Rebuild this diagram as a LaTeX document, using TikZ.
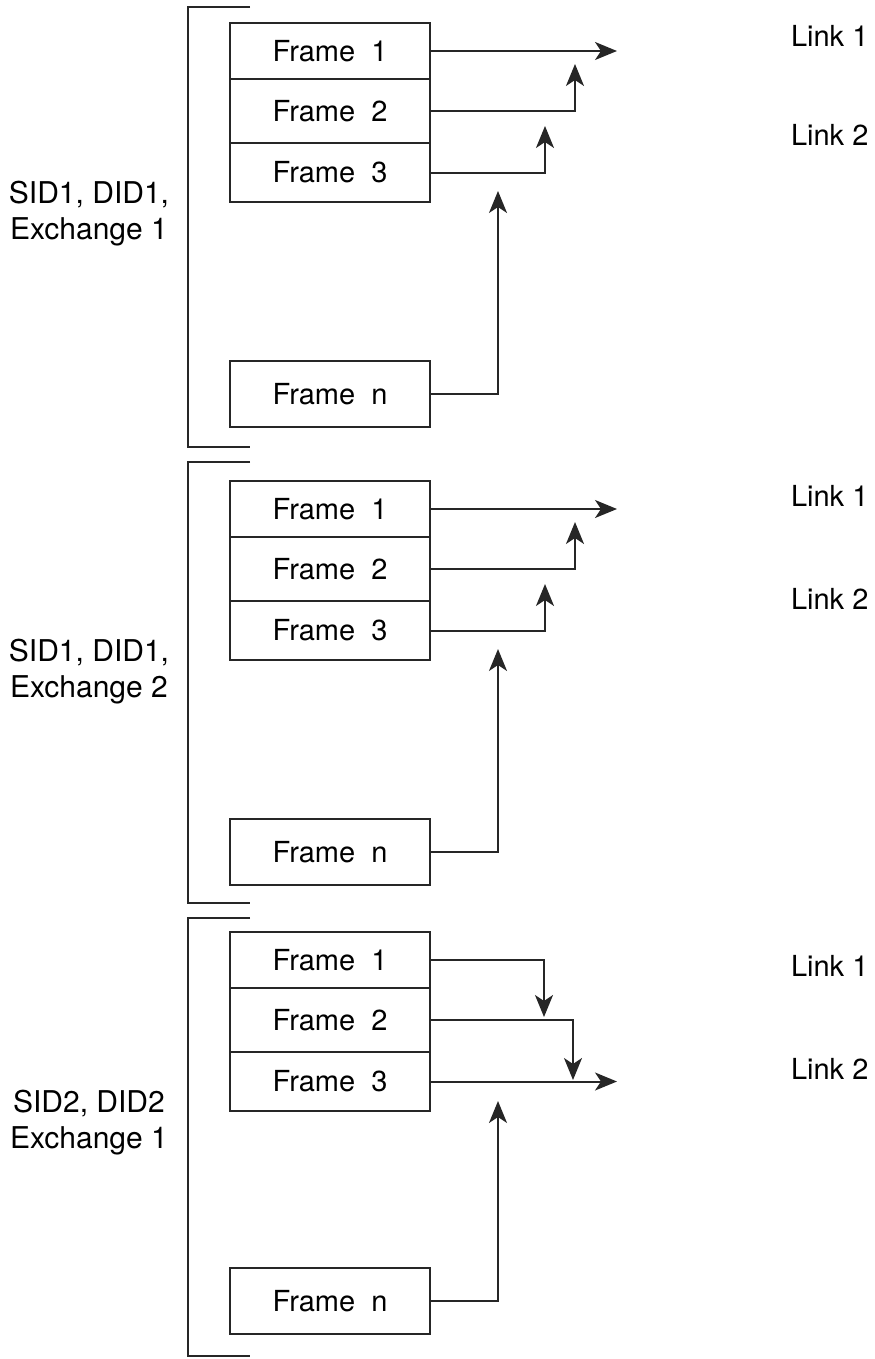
\documentclass[tikz,border=0pt]{standalone}
\usepackage{fontspec}
\setmainfont{TeX Gyre Heros}
\usetikzlibrary{arrows.meta}

\tikzset{
  frm/.style={draw, rectangle, minimum width=100pt, inner sep=0pt},
  lbl/.style={align=center, inner sep=0pt, font=\fontsize{15}{18}\selectfont},
  lnk/.style={anchor=west, inner sep=0pt},
  arr/.style={-{Stealth[length=11pt, width=9pt, inset=3pt]}}
}

\begin{document}
\begin{tikzpicture}[x=0.5pt, y=-0.5pt, line width=1pt, draw=black!85,
    every node/.style={font=\fontsize{14.5}{17}\selectfont}]
    \useasboundingbox (0,0) rectangle (874,1359);

    % Gruppe 1: SID1, DID1, Exchange 1
    \begin{scope}
      \draw (250,7) -- (188,7) -- (188,447) -- (250,447);
      \node[lbl] (id1) at (89,214) {SID1, DID1,\\Exchange 1};
      \node[frm, minimum height=28pt] (a1) at (330,51) {Frame~~1};
      \node[frm, minimum height=32pt] (a2) at (330,111) {Frame~~2};
      \node[frm, minimum height=29.5pt] (a3) at (330,172.5) {Frame~~3};
      \node[frm, minimum height=33pt] (an) at (330,394) {Frame~~n};
      \node[lnk] (al1) at (790,36) {Link 1};
      \node[lnk] (al2) at (790,135) {Link 2};
      \coordinate (a1tip) at (617,51);
      \coordinate (a2tip) at (575,64);
      \coordinate (a3tip) at (545,126);
      \coordinate (antip) at (498,191);
      \draw[arr] (a1) -- (a1tip);
      \draw[arr] (a2.east) -| (a2tip);
      \draw[arr] (a3.east) -| (a3tip);
      \draw[arr] (an.east) -| (antip);
    \end{scope}

    % Gruppe 2: SID1, DID1, Exchange 2
    \begin{scope}[shift={(0,458)}]
      \draw (250,4) -- (188,4) -- (188,445) -- (250,445);
      \node[lbl] (id2) at (89,214) {SID1, DID1,\\Exchange 2};
      \node[frm, minimum height=28pt] (b1) at (330,51) {Frame~~1};
      \node[frm, minimum height=32pt] (b2) at (330,111) {Frame~~2};
      \node[frm, minimum height=29.5pt] (b3) at (330,172.5) {Frame~~3};
      \node[frm, minimum height=33pt] (bn) at (330,394) {Frame~~n};
      \node[lnk] (bl1) at (790,38) {Link 1};
      \node[lnk] (bl2) at (790,141) {Link 2};
      \coordinate (b1tip) at (617,51);
      \coordinate (b2tip) at (575,64);
      \coordinate (b3tip) at (545,126);
      \coordinate (bntip) at (498,191);
      \draw[arr] (b1) -- (b1tip);
      \draw[arr] (b2.east) -| (b2tip);
      \draw[arr] (b3.east) -| (b3tip);
      \draw[arr] (bn.east) -| (bntip);
    \end{scope}

    % Gruppe 3: SID2, DID2 Exchange 1
    \begin{scope}[shift={(0,909)}]
      \draw (250,9) -- (188,9) -- (188,447) -- (250,447);
      \node[lbl] (id3) at (89,214) {SID2, DID2\\Exchange 1};
      \node[frm, minimum height=28pt] (c1) at (330,51) {Frame~~1};
      \node[frm, minimum height=32pt] (c2) at (330,111) {Frame~~2};
      \node[frm, minimum height=29.5pt] (c3) at (330,172.5) {Frame~~3};
      \node[frm, minimum height=33pt] (cn) at (330,392) {Frame~~n};
      \node[lnk] (cl1) at (790,57) {Link 1};
      \node[lnk] (cl2) at (790,160) {Link 2};
      \coordinate (c1tip) at (544,108);
      \coordinate (c2tip) at (573,171);
      \coordinate (c3tip) at (617,172.5);
      \coordinate (cntip) at (498,192);
      \draw[arr] (c1.east) -| (c1tip);
      \draw[arr] (c2.east) -| (c2tip);
      \draw[arr] (c3) -- (c3tip);
      \draw[arr] (cn.east) -| (cntip);
    \end{scope}
\end{tikzpicture}
\end{document}
